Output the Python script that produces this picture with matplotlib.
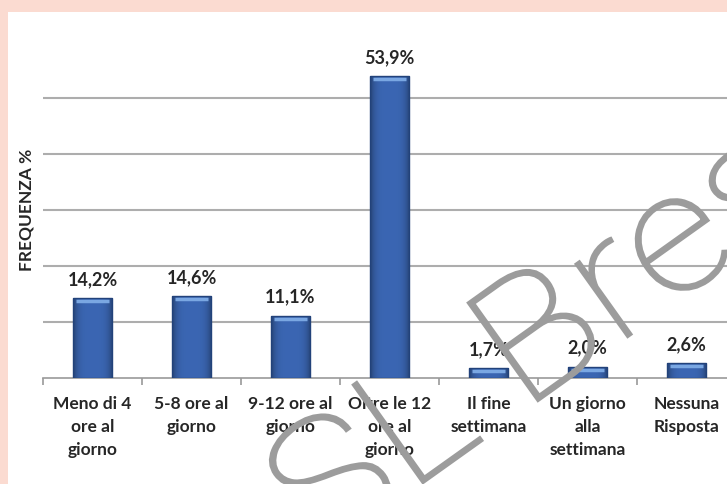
import numpy as np
import matplotlib.pyplot as plt
from matplotlib.patches import Rectangle, PathPatch
from matplotlib.textpath import TextPath
from matplotlib.font_manager import FontProperties
from matplotlib.transforms import offset_copy, Affine2D, IdentityTransform

# data
categorie = ["Meno di 4\nore al\ngiorno", "5-8 ore al\ngiorno", "9-12 ore al\ngiorno",
             "Oltre le 12\nore al\ngiorno", "Il fine\nsettimana", "Un giorno\nalla\nsettimana",
             "Nessuna\nRisposta"]
frequenza = [14.2, 14.6, 11.1, 53.9, 1.7, 2.0, 2.6]
etichette = ["14,2%", "14,6%", "11,1%", "53,9%", "1,7%", "2,0%", "2,6%"]
griglia = [10, 20, 30, 40, 50]

plt.rcParams['font.family'] = ['Lato', 'DejaVu Sans']

fig = plt.figure(figsize=(7.27, 4.84), dpi=100)
fig.patch.set_facecolor('#fbdbd1')
fig.patches.append(Rectangle((8/727, 0), 1, (484-12)/484, transform=fig.transFigure,
                             facecolor='white', edgecolor='none', zorder=-5))

ax = fig.add_axes([43/727, 106/484, 693/727, 336/484])
ax.set_zorder(1)
ax.set_facecolor('none')
x = np.arange(len(frequenza))
ax.set_xlim(-0.5, len(frequenza) - 0.5)
ax.set_ylim(0, 60)

for g in griglia:
    ax.axhline(g, color='#adadad', lw=1.5, zorder=1)

bars = ax.bar(x, frequenza, width=0.40, color='#3763ae', edgecolor='#22427a', lw=1, zorder=3)

# shading of the bars: darker sides, lighter band on top
prof = np.linspace(-1, 1, 60)
shade = 1 - 0.35 * prof**4
col = np.array([0.23, 0.40, 0.70])
img = (shade[None, :, None] * col[None, None, :])
img = np.repeat(img, 2, axis=0)
for b in bars:
    im = ax.imshow(img, extent=(b.get_x(), b.get_x() + b.get_width(), 0, b.get_height()),
                   aspect='auto', zorder=3.5, interpolation='bilinear')
    im.set_clip_path(b)
    b.set_facecolor('none')
    b.set_zorder(4)
    tr = offset_copy(ax.transData, fig=fig, y=-3, units='dots')
    ax.plot([b.get_x() + 0.03, b.get_x() + b.get_width() - 0.03], [b.get_height()] * 2,
            color='#7aa7e2', lw=2.5, transform=tr, zorder=5, solid_capstyle='butt')

for xi, v, t in zip(x, frequenza, etichette):
    ax.annotate(t, (xi, v), xytext=(0, 9.5), textcoords='offset points', ha='center',
                va='baseline', fontsize=13, fontweight='bold', color='#262626')

for s in ['left', 'right', 'top']:
    ax.spines[s].set_visible(False)
ax.spines['bottom'].set_color('#9a9a9a')
ax.spines['bottom'].set_linewidth(1.2)
ax.set_yticks([])
ax.set_xticks(x)
ax.set_xticklabels(categorie, fontsize=12.5, fontweight='bold', color='#262626', linespacing=1.55)
ax.tick_params(axis='x', length=0, pad=13)
ax.set_xticks(np.arange(-0.5, len(frequenza)), minor=True)
ax.tick_params(axis='x', which='minor', length=5, color='#9a9a9a', width=1.2)

fig.text(26/727, 1 - 210/484, "FREQUENZA %", rotation=90, ha='center', va='center',
         fontsize=12.5, fontweight='bold', color='#262626')

# watermark, thin letters stretched a little sideways
tp = TextPath((0, 0), "SL Brescia", size=170, prop=FontProperties(family='Roboto', weight=100))
wm_tr = Affine2D().scale(1.1, 1).rotate_deg(35.5).translate(318, -74)
wm = PathPatch(wm_tr.transform_path(tp), transform=IdentityTransform(), facecolor='#9c9c9c',
               edgecolor='#9c9c9c', lw=1.6, zorder=10)
fig.add_artist(wm)

fig.savefig('out.png', dpi=100)
